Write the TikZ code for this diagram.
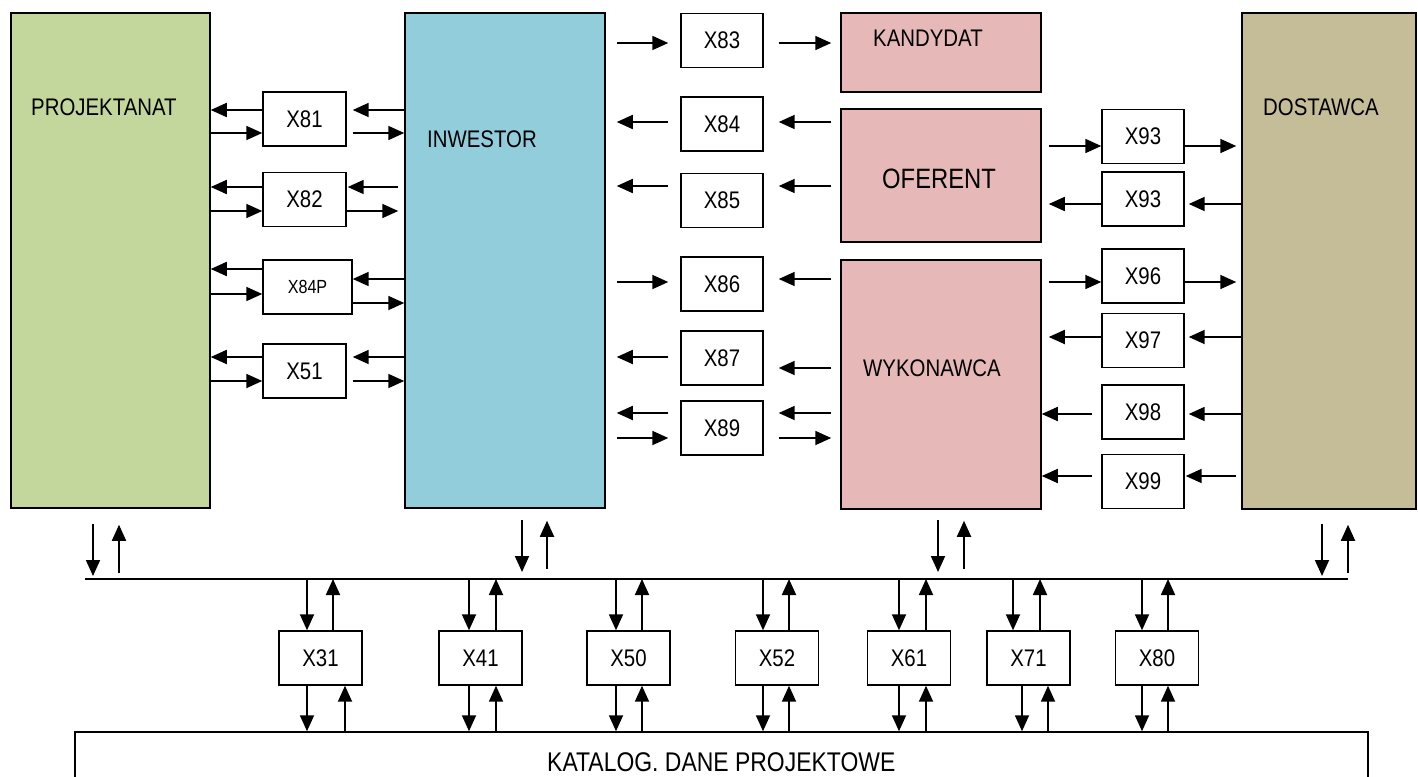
\documentclass[tikz,border=0pt]{standalone}
\usepackage{fontspec}
\setmainfont{Liberation Sans}[FakeStretch=0.85]
\usetikzlibrary{arrows.meta}

\definecolor{projgreen}{HTML}{C3D69B}
\definecolor{invblue}{HTML}{92CDDC}
\definecolor{offpink}{HTML}{E6B9B8}
\definecolor{suptan}{HTML}{C4BD97}

\tikzset{
  bigbox/.style={draw, line width=1.5pt, inner sep=0pt},
  sbox/.style={draw, line width=1.4pt, fill=white, minimum width=83pt, minimum height=54pt,
    inner sep=0pt, font=\fontsize{24}{28}\selectfont},
  lbl/.style={inner sep=0pt, anchor=base west, font=\fontsize{24}{28}\selectfont},
  arr/.style={line width=1.8pt, -{Triangle[length=16pt,width=14pt]}},
}

\begin{document}
\begin{tikzpicture}[x=1pt,y=-1pt]
\useasboundingbox (0,0) rectangle (1418,776);
\clip (0,0) rectangle (1418,776);

% main participants
\node[bigbox, fill=projgreen, minimum width=199pt, minimum height=495pt] (proj) at (110.5,260.5) {};
\node[bigbox, fill=invblue, minimum width=200pt, minimum height=495pt] (inv) at (505,260.5) {};
\node[bigbox, fill=offpink, minimum width=200pt, minimum height=79pt] (kand) at (941,52.5) {};
\node[bigbox, fill=offpink, minimum width=200pt, minimum height=133pt] (ofer) at (941,175.5) {};
\node[bigbox, fill=offpink, minimum width=200pt, minimum height=249pt] (wyk) at (941,384.5) {};
\node[bigbox, fill=suptan, minimum width=174pt, minimum height=496pt] (dost) at (1329,261) {};
\node[bigbox, fill=white, minimum width=1293pt, minimum height=68pt] (kat) at (721.5,766) {};

\node[lbl] (projT) at (31,115) {PROJEKTANAT};
\node[lbl] (invT) at (427,147) {INWESTOR};
\node[lbl] (kandT) at (873,47) {KANDYDAT};
\node[lbl, font=\fontsize{28}{32}\selectfont] (oferT) at (882,188) {OFERENT};
\node[lbl] (wykT) at (863,376) {WYKONAWCA};
\node[lbl] (dostT) at (1263,115) {DOSTAWCA};
\node[lbl, font=\fontsize{27}{32}\selectfont] (katT) at (547,771) {KATALOG. DANE PROJEKTOWE};

% document boxes between PROJEKTANAT and INWESTOR
\node[sbox] (x81) at (304.5,119) {X81};
\node[sbox] (x82) at (304.5,199.5) {X82};
\node[sbox, minimum width=89pt, font=\fontsize{19}{22}\selectfont] (x84p) at (307.5,287) {X84P};
\node[sbox] (x51) at (304.5,371) {X51};

% document boxes between INWESTOR and the contractors
\node[sbox, minimum width=82pt] (x83) at (722,40.5) {X83};
\node[sbox, minimum width=82pt] (x84) at (722,124) {X84};
\node[sbox, minimum width=82pt] (x85) at (722,200.5) {X85};
\node[sbox, minimum width=82pt] (x86) at (722,284) {X86};
\node[sbox, minimum width=82pt] (x87) at (722,358) {X87};
\node[sbox, minimum width=82pt] (x89) at (722,428) {X89};

% document boxes between the contractors and DOSTAWCA
\node[sbox, minimum width=82pt] (x93a) at (1143,136.5) {X93};
\node[sbox, minimum width=82pt] (x93b) at (1143,199) {X93};
\node[sbox, minimum width=82pt] (x96) at (1143,276) {X96};
\node[sbox, minimum width=82pt] (x97) at (1143,340.5) {X97};
\node[sbox, minimum width=82pt] (x98) at (1143,412) {X98};
\node[sbox, minimum width=82pt] (x99) at (1143,481.5) {X99};

% document boxes on the shared bus
\node[sbox] (x31) at (320.5,658) {X31};
\node[sbox] (x41) at (480.5,658) {X41};
\node[sbox] (x50) at (628.5,658) {X50};
\node[sbox] (x52) at (777,658) {X52};
\node[sbox] (x61) at (909,658) {X61};
\node[sbox] (x71) at (1028.5,658) {X71};
\node[sbox] (x80) at (1157,658) {X80};

% shared bus
\coordinate (busL) at (85,579);
\coordinate (busR) at (1348,579);
\draw[line width=1.6pt] (busL) -- (busR);

% PROJEKTANAT <-> INWESTOR
\draw[arr] (x81.west |- 0,110) -- (proj.east |- 0,110);
\draw[arr] (proj.east |- 0,133) -- (x81.west |- 0,133);
\draw[arr, shorten >=6pt] (inv.west |- 0,110) -- (x81.east |- 0,110);
\draw[arr, shorten <=6pt] (x81.east |- 0,133) -- (inv.west |- 0,133);

\draw[arr] (x82.west |- 0,187) -- (proj.east |- 0,187);
\draw[arr] (proj.east |- 0,211) -- (x82.west |- 0,211);
\draw[arr, shorten <=6pt, shorten >=1pt] (inv.west |- 0,187) -- (x82.east |- 0,187);
\draw[arr, shorten >=6pt] (x82.east |- 0,211) -- (inv.west |- 0,211);

\draw[arr] (x84p.west |- 0,269) -- (proj.east |- 0,269);
\draw[arr] (proj.east |- 0,294) -- (x84p.west |- 0,294);
\draw[arr] (inv.west |- 0,279) -- (x84p.east |- 0,279);
\draw[arr] (x84p.east |- 0,303) -- (inv.west |- 0,303);

\draw[arr] (x51.west |- 0,357) -- (proj.east |- 0,357);
\draw[arr] (proj.east |- 0,381) -- (x51.west |- 0,381);
\draw[arr, shorten >=6pt] (inv.west |- 0,357) -- (x51.east |- 0,357);
\draw[arr, shorten <=6pt] (x51.east |- 0,381) -- (inv.west |- 0,381);

% INWESTOR <-> KANDYDAT / OFERENT / WYKONAWCA
\draw[arr, shorten <=11pt, shorten >=12pt] (inv.east |- 0,43) -- (x83.west |- 0,43);
\draw[arr, shorten <=15pt, shorten >=9pt] (x83.east |- 0,43) -- (kand.west |- 0,43);

\draw[arr, shorten <=12pt, shorten >=11pt] (x84.west |- 0,122) -- (inv.east |- 0,122);
\draw[arr, shorten <=9pt, shorten >=15pt] (ofer.west |- 0,122) -- (x84.east |- 0,122);

\draw[arr, shorten <=12pt, shorten >=11pt] (x85.west |- 0,186) -- (inv.east |- 0,186);
\draw[arr, shorten <=9pt, shorten >=15pt] (ofer.west |- 0,186) -- (x85.east |- 0,186);

\draw[arr, shorten <=11pt, shorten >=12pt] (inv.east |- 0,282) -- (x86.west |- 0,282);
\draw[arr, shorten <=9pt, shorten >=15pt] (wyk.west |- 0,279) -- (x86.east |- 0,279);

\draw[arr, shorten <=12pt, shorten >=11pt] (x87.west |- 0,357) -- (inv.east |- 0,357);
\draw[arr, shorten <=9pt, shorten >=15pt] (wyk.west |- 0,368) -- (x87.east |- 0,368);

\draw[arr, shorten <=12pt, shorten >=11pt] (x89.west |- 0,413) -- (inv.east |- 0,413);
\draw[arr, shorten <=11pt, shorten >=12pt] (inv.east |- 0,438) -- (x89.west |- 0,438);
\draw[arr, shorten <=9pt, shorten >=15pt] (wyk.west |- 0,413) -- (x89.east |- 0,413);
\draw[arr, shorten <=15pt, shorten >=9pt] (x89.east |- 0,438) -- (wyk.west |- 0,438);

% OFERENT / WYKONAWCA <-> DOSTAWCA
\draw[arr, shorten <=7pt] (ofer.east |- 0,146) -- (x93a.west |- 0,146);
\draw[arr, shorten >=5pt] (x93a.east |- 0,146) -- (dost.west |- 0,146);
\draw[arr, shorten >=7pt] (x93b.west |- 0,204) -- (ofer.east |- 0,204);
\draw[arr, shorten >=4pt] (dost.west |- 0,204) -- (x93b.east |- 0,204);

\draw[arr, shorten <=7pt] (wyk.east |- 0,282) -- (x96.west |- 0,282);
\draw[arr, shorten >=5pt] (x96.east |- 0,282) -- (dost.west |- 0,282);
\draw[arr, shorten >=7pt] (x97.west |- 0,337) -- (wyk.east |- 0,337);
\draw[arr, shorten >=4pt] (dost.west |- 0,337) -- (x97.east |- 0,337);

\draw[arr, shorten <=9pt] (x98.west |- 0,414) -- (wyk.east |- 0,414);
\draw[arr, shorten >=4pt] (dost.west |- 0,414) -- (x98.east |- 0,414);
\draw[arr, shorten <=9pt] (x99.west |- 0,476) -- (wyk.east |- 0,476);
\draw[arr, shorten <=5pt, shorten >=1pt] (dost.west |- 0,476) -- (x99.east |- 0,476);

% participants <-> bus
\draw[arr, shorten <=15pt, shorten >=3pt] (93,0 |- proj.south) -- (93,0 |- busL);
\draw[arr, shorten <=6pt, shorten >=16pt] (119,0 |- busL) -- (119,0 |- proj.south);
\draw[arr, shorten <=11pt, shorten >=7pt] (522,0 |- inv.south) -- (522,0 |- busL);
\draw[arr, shorten <=10pt, shorten >=12pt] (547,0 |- busL) -- (547,0 |- inv.south);
\draw[arr, shorten <=10pt, shorten >=7pt] (938,0 |- wyk.south) -- (938,0 |- busL);
\draw[arr, shorten <=10pt, shorten >=11pt] (964,0 |- busL) -- (964,0 |- wyk.south);
\draw[arr, shorten <=14pt, shorten >=3pt] (1322,0 |- dost.south) -- (1322,0 |- busL);
\draw[arr, shorten <=6pt, shorten >=15pt] (1348,0 |- busL) -- (1348,0 |- dost.south);

% bus <-> document boxes <-> catalogue
\foreach \b/\xd/\xu/\xdd/\xuu in {x31/307/333/307/345, x41/469/496/469/496,
    x50/616/642/616/642, x52/763/789/763/789, x61/899/926/899/926,
    x71/1013/1040/1022/1048, x80/1142/1168/1142/1168} {
  \draw[arr] (\xd,0 |- busL) -- (\xd,0 |- \b.north);
  \draw[arr] (\xu,0 |- \b.north) -- (\xu,0 |- busL);
  \draw[arr] (\xdd,0 |- \b.south) -- (\xdd,0 |- kat.north);
  \draw[arr] (\xuu,0 |- kat.north) -- (\xuu,0 |- \b.south);
}
\end{tikzpicture}
\end{document}
